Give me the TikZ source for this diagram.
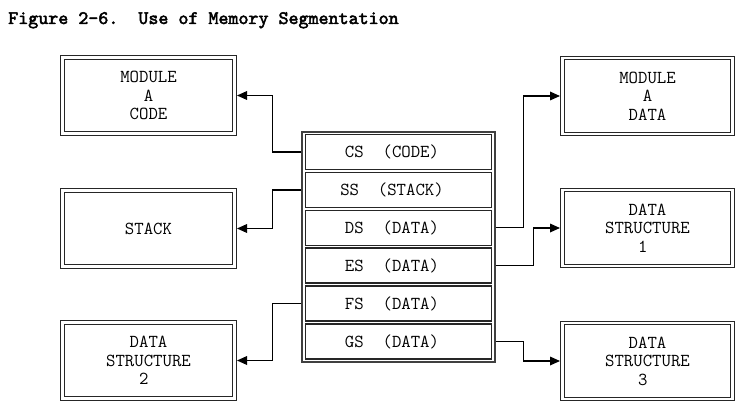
\documentclass[tikz,border=0pt]{standalone}
\usepackage{fontspec}
\usetikzlibrary{arrows.meta}
\newfontfamily\titlefont{lmmono10-regular.otf}[FakeBold=2.5]
\newcommand{\cw}{\hspace*{0.525em}}
\begin{document}
\begin{tikzpicture}[x=0.75pt,y=-0.75pt,
  txt/.style={font=\ttfamily\fontsize{13.7}{13.9}\selectfont},
  dbox/.style={txt, draw=black!85, double=white, double distance=1.6pt, line width=0.75pt,
    align=center, inner sep=0pt, minimum height=76*0.75pt},
  lbox/.style={dbox, minimum width=172*0.75pt},
  rbox/.style={dbox, minimum width=170*0.75pt},
  outerbox/.style={draw=black!75, line width=0.8pt, minimum width=193*0.75pt, minimum height=230*0.75pt, inner sep=0pt},
  rowbox/.style={txt, draw=black!85, line width=1.1pt, minimum width=186*0.75pt, minimum height=35*0.75pt, inner sep=0pt},
  conn/.style={draw=black, line width=0.9pt, -{Triangle[length=7.5pt,width=6.5pt]}, shorten >=1.5pt}
]
\useasboundingbox (0,0) rectangle (749,417);

\node[anchor=base west, inner sep=0pt, font=\titlefont\fontsize{14.3}{15}\selectfont] (title) at (8,24) {Figure 2-6.~~Use of Memory Segmentation};

% left boxes
\node[lbox] (codeA) at (148.5,95.5) {MODULE\\A\cw\\CODE};
\node[lbox] (stack) at (148.5,228.5) {STACK};
\node[lbox] (ds2) at (148.5,360.5) {DATA\\STRUCTURE\cw\\2\cw};

% right boxes
\node[rbox] (dataA) at (647.5,96) {MODULE\\A\cw\\DATA};
\node[rbox] (ds1) at (647.5,228) {DATA\\STRUCTURE\cw\\1\cw};
\node[rbox] (ds3) at (647.5,361) {DATA\\STRUCTURE\cw\\3\cw};

% segment registers
\node[outerbox] (reg) at (398.5,247) {};
\node[rowbox] (cs) at (398.5,152) {CS~~(CODE)\hspace*{9.75pt}};
\node[rowbox] (ss) at (398.5,189.9) {SS~~(STACK)\hspace*{9.75pt}};
\node[rowbox] (dsr) at (398.5,227.8) {DS~~(DATA)\hspace*{9.75pt}};
\node[rowbox] (es) at (398.5,265.7) {ES~~(DATA)\hspace*{9.75pt}};
\node[rowbox] (fs) at (398.5,303.6) {FS~~(DATA)\hspace*{9.75pt}};
\node[rowbox] (gs) at (398.5,341.5) {GS~~(DATA)\hspace*{9.75pt}};

% connectors
\draw[conn] (reg.west |- cs) -- ++(-29,0) |- (codeA.east);
\draw[conn] (reg.west |- ss) -- ++(-29,0) |- (stack.east);
\draw[conn] (reg.west |- fs) -- ++(-29,0) |- (ds2.east);
\draw[conn] (reg.east |- dsr) -- ++(28,0) |- (dataA.west);
\draw[conn] (reg.east |- es) -- ++(38,0) |- (ds1.west);
\draw[conn] (reg.east |- gs) -- ++(28,0) |- (ds3.west);
\end{tikzpicture}
\end{document}
